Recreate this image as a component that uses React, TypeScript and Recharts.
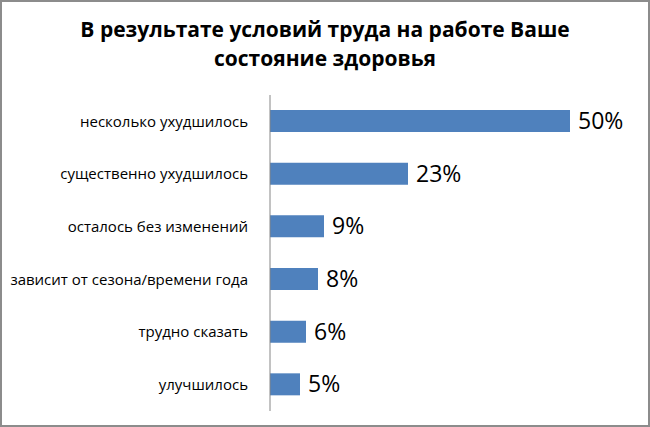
import React from 'react';
import { BarChart, Bar, XAxis, YAxis, LabelList } from 'recharts';

const categories = [
  'несколько ухудшилось',
  'существенно ухудшилось',
  'осталось без изменений',
  'зависит от сезона/времени года',
  'трудно сказать',
  'улучшилось',
];
const values = [50, 23, 9, 8, 6, 5];
const titleLines = ['В результате условий труда на работе Ваше', 'состояние здоровья'];

const data = categories.map((name, i) => ({ name, value: values[i] }));

export default function App() {
  return (
    <div
      style={{
        position: 'absolute',
        left: 0,
        top: 0,
        width: 650,
        height: 427,
        background: '#fff',
        boxSizing: 'border-box',
        border: '2px solid #8c8c8c',
        fontFamily: '"Open Sans", sans-serif',
        overflow: 'hidden',
      }}
    >
      <div
        style={{
          position: 'absolute',
          left: -2,
          top: 13,
          width: 650,
          textAlign: 'center',
          fontWeight: 700,
          fontSize: 21,
          lineHeight: '29px',
          color: '#000',
        }}
      >
        {titleLines.map((t) => (
          <div key={t}>{t}</div>
        ))}
      </div>
      <div style={{ position: 'absolute', left: -2, top: -2 }}>
        <BarChart
          width={650}
          height={427}
          data={data}
          layout="vertical"
          margin={{ top: 95, right: 20, bottom: 16, left: 0 }}
          barSize={22}
        >
          <XAxis type="number" domain={[0, 60]} hide />
          <YAxis
            type="category"
            dataKey="name"
            width={270}
            axisLine={{ stroke: '#868686' }}
            tickLine={false}
            tickMargin={16}
            tick={{ fill: '#000', fontSize: 15, fontFamily: '"Open Sans", sans-serif' }}
            interval={0}
          />
          <Bar dataKey="value" fill="#4f81bd" isAnimationActive={false}>
            <LabelList
              dataKey="value"
              position="right"
              offset={8}
              formatter={(v: number) => `${v}%`}
              style={{ fill: '#000', fontSize: 23, fontFamily: '"Open Sans", sans-serif' }}
            />
          </Bar>
        </BarChart>
      </div>
    </div>
  );
}
